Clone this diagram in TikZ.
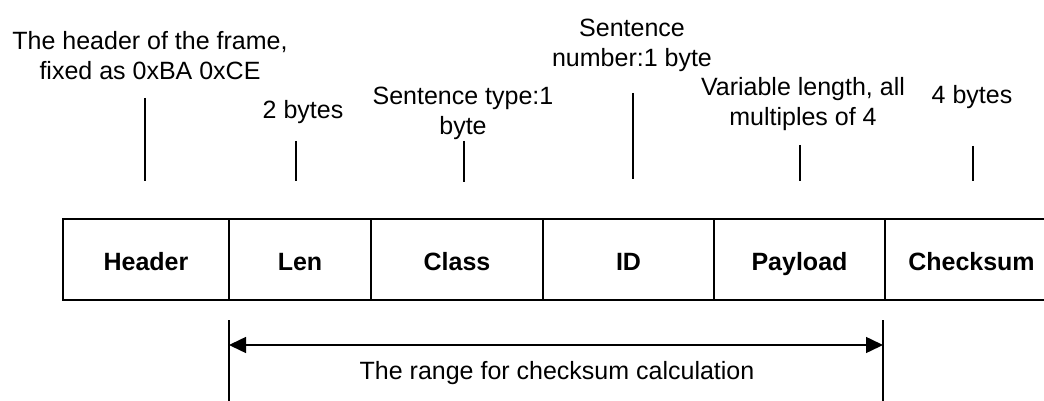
\documentclass[tikz,border=0pt]{standalone}
\usepackage{fontspec}
\setmainfont{Liberation Sans}
\usetikzlibrary{arrows.meta}
\begin{document}
\begin{tikzpicture}[x=1pt,y=-1pt, line width=1.5pt,
  cell/.style={draw, minimum height=81pt, inner sep=0pt, text height=21pt, text depth=0pt, font=\fontsize{25}{30}\selectfont\bfseries},
  lbl/.style={align=center, inner sep=0pt, font=\fontsize{25}{30}\selectfont},
  tickline/.style={line width=1.5pt},
  rangearrow/.style={{Triangle[length=17pt,width=16pt]}-{Triangle[length=17pt,width=16pt]}}]
\useasboundingbox (0,0) rectangle (1044,401);
\clip (0,0) rectangle (1044,401);
% cells
\node[cell, minimum width=166pt] (header)   at (146,259.5)   {Header};
\node[cell, minimum width=142pt] (len)      at (300,259.5)   {Len};
\node[cell, minimum width=172pt] (class)    at (457,259.5)   {Class};
\node[cell, minimum width=171pt] (id)       at (628.5,259.5) {ID};
\node[cell, minimum width=171pt] (payload)  at (799.5,259.5) {Payload};
\node[cell, minimum width=173pt] (checksum) at (971.5,259.5) {Checksum};
% labels
\node[lbl] (lheader)  at (150,56)   {The header of the frame,\\fixed as 0xBA 0xCE};
\node[lbl] (llen)     at (303,112.5) {2 bytes};
\node[lbl] (lclass)   at (463,113.5) {Sentence type:1\\byte};
\node[lbl] (lid)      at (632,45) {Sentence\\number:1 byte};
\node[lbl] (lpayload) at (803,104)  {Variable length, all\\multiples of 4};
\node[lbl] (lcheck)   at (972,97.5) {4 bytes};
% ticks
\coordinate (t1a) at (145,98);  \coordinate (t1b) at (145,181);
\coordinate (t2a) at (296,141); \coordinate (t2b) at (296,181);
\coordinate (t3a) at (464,141); \coordinate (t3b) at (464,182);
\coordinate (t4a) at (633,93);  \coordinate (t4b) at (633,179);
\coordinate (t5a) at (800,145); \coordinate (t5b) at (800,181);
\coordinate (t6a) at (973,146); \coordinate (t6b) at (973,181);
\foreach \i in {1,...,6} \draw[tickline] (t\i a) -- (t\i b);
% checksum range
\coordinate (lt) at (229,320); \coordinate (lb) at (229,403);
\coordinate (rt) at (883,320); \coordinate (rb) at (883,403);
\coordinate (al) at (229,345); \coordinate (ar) at (883,345);
\draw (lt) -- (lb);
\draw (rt) -- (rb);
\draw[rangearrow] (al) -- (ar);
\node[lbl] (lrange) at (557,373) {The range for checksum calculation};
\end{tikzpicture}
\end{document}
